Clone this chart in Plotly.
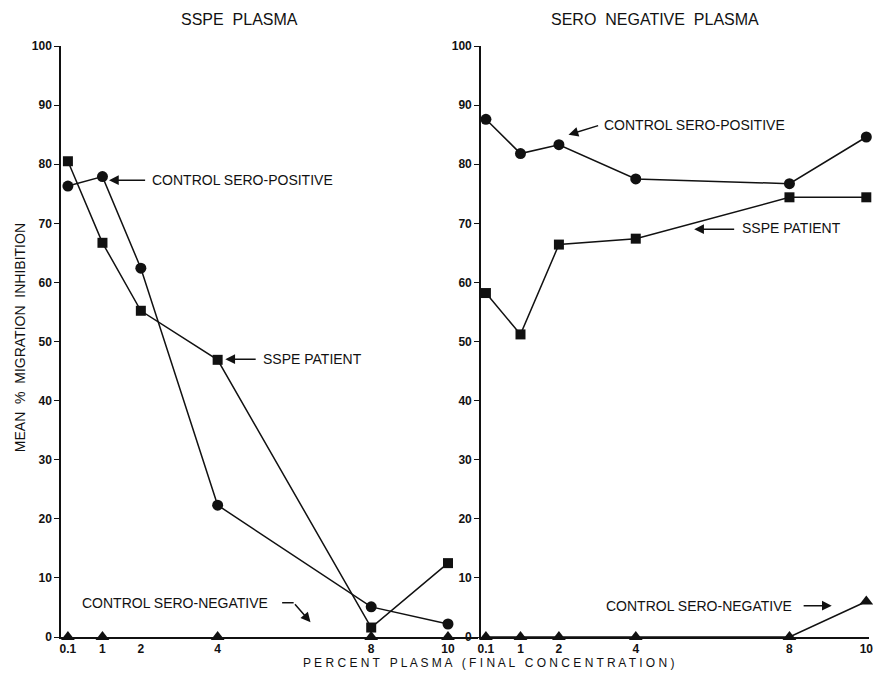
import plotly.graph_objects as go

# ---------------- data ----------------
x_ticks = [0.1, 1, 2, 4, 8, 10]
x_tick_labels = ["0.1", "1", "2", "4", "8", "10"]
y_ticks = [0, 10, 20, 30, 40, 50, 60, 70, 80, 90, 100]

# Left panel: SSPE plasma
left_pos_x = [0.1, 1, 2, 4, 8, 10]
left_pos_y = [76.3, 77.9, 62.4, 22.3, 5.1, 2.2]
left_sspe_x = [0.1, 1, 2, 4, 8, 10]
left_sspe_y = [80.5, 66.7, 55.2, 46.9, 1.6, 12.5]
left_neg_x = [0.1, 1, 4, 8, 10]
left_neg_y = [0, 0, 0, 0, 0]

# Right panel: sero negative plasma
right_pos_x = [0.1, 1, 2, 4, 8, 10]
right_pos_y = [87.6, 81.8, 83.3, 77.5, 76.7, 84.6]
right_sspe_x = [0.1, 1, 2, 4, 8, 10]
right_sspe_y = [58.2, 51.2, 66.4, 67.4, 74.4, 74.4]
right_neg_x = [0.1, 1, 2, 4, 8, 10]
right_neg_y = [0, 0, 0, 0, 0, 6.0]

FONT = "Liberation Sans, Arial, sans-serif"
BLACK = "#111111"

fig = go.Figure()

def add_series(xs, ys, symbol, size, xa, ya, mode="lines+markers"):
    fig.add_trace(go.Scatter(
        x=xs, y=ys, mode=mode, xaxis=xa, yaxis=ya,
        line=dict(color=BLACK, width=1.5),
        marker=dict(symbol=symbol, size=size, color=BLACK),
        cliponaxis=False, showlegend=False, hoverinfo="x+y"))

add_series(left_pos_x, left_pos_y, "circle", 11, "x", "y")
add_series(left_sspe_x, left_sspe_y, "square", 10, "x", "y")
add_series(left_neg_x, left_neg_y, "triangle-up", 12, "x", "y", mode="markers")
add_series(right_pos_x, right_pos_y, "circle", 11, "x2", "y2")
add_series(right_sspe_x, right_sspe_y, "square", 10, "x2", "y2")
add_series(right_neg_x, right_neg_y, "triangle-up", 12, "x2", "y2")

axis_common = dict(
    showgrid=False, zeroline=False, showline=True, linecolor=BLACK, linewidth=1.5,
    tickfont=dict(family=FONT, size=12, color=BLACK, weight="bold"),
    ticklabeloverflow="allow",
)

fig.update_layout(
    width=873, height=680,
    margin=dict(l=61, r=0, t=46, b=43),
    paper_bgcolor="white", plot_bgcolor="white",
    font=dict(family=FONT, color=BLACK),
    xaxis=dict(domain=[0, 0.516], range=[-0.08, 10.78], tickvals=x_ticks,
               ticktext=x_tick_labels, ticks="", anchor="y", **axis_common),
    yaxis=dict(domain=[0, 1], range=[0, 100], tickvals=y_ticks, ticks="outside",
               ticklen=5, tickcolor=BLACK, anchor="x", **axis_common),
    xaxis2=dict(domain=[0.5197, 1], range=[-0.03, 10.07], tickvals=x_ticks,
                ticktext=x_tick_labels, ticks="", anchor="y2", **axis_common),
    yaxis2=dict(domain=[0, 1], range=[0, 100], tickvals=y_ticks, ticks="outside",
                ticklen=5, tickcolor=BLACK, anchor="x2", **axis_common),
)

LBL = dict(family=FONT, size=14, color=BLACK)
TTL = dict(family=FONT, size=16, color=BLACK)

def text(x, y, s, xref, yref, xanchor="left", font=LBL):
    fig.add_annotation(x=x, y=y, xref=xref, yref=yref, text=s, showarrow=False,
                       xanchor=xanchor, yanchor="middle", font=font)

def arrow(x, y, ax, ay, xref, yref):
    fig.add_annotation(x=x, y=y, ax=ax, ay=ay, xref=xref, yref=yref,
                       axref=xref, ayref=yref, text="", showarrow=True,
                       arrowhead=2, arrowsize=1.3, arrowwidth=1.5, arrowcolor=BLACK)

# Left panel labels
text(2.25, 77.3, "CONTROL SERO-POSITIVE", "x", "y")
arrow(1.17, 77.3, 2.15, 77.3, "x", "y")
text(5.13, 47.0, "SSPE PATIENT", "x", "y")
arrow(4.2, 47.0, 5.03, 47.0, "x", "y")
text(0.42, 5.8, "CONTROL SERO-NEGATIVE", "x", "y")
fig.add_shape(type="line", x0=5.68, y0=5.8, x1=5.98, y1=5.8, xref="x", yref="y",
              line=dict(color=BLACK, width=1.5))
arrow(6.42, 2.5, 5.98, 5.8, "x", "y")

# Right panel labels
text(3.13, 86.6, "CONTROL SERO-POSITIVE", "x2", "y2")
arrow(2.25, 85.0, 3.06, 86.6, "x2", "y2")
text(6.71, 69.2, "SSPE PATIENT", "x2", "y2")
arrow(5.52, 69.0, 6.6, 69.0, "x2", "y2")
text(3.18, 5.3, "CONTROL SERO-NEGATIVE", "x2", "y2")
arrow(9.1, 5.3, 8.33, 5.3, "x2", "y2")

# Titles (paper coords relative to plot area: 46..637 vertical, 61..873 horizontal)
def px_x(px):
    return (px - 61) / 812

def px_y(py):
    return (637 - py) / 591

fig.add_annotation(x=px_x(240), y=px_y(20), xref="paper", yref="paper",
                   text="SSPE  PLASMA", showarrow=False, font=TTL,
                   xanchor="center", yanchor="middle")
fig.add_annotation(x=px_x(658), y=px_y(20), xref="paper", yref="paper",
                   text="SERO  NEGATIVE  PLASMA", showarrow=False, font=TTL,
                   xanchor="center", yanchor="middle")
fig.add_annotation(x=px_x(20), y=px_y(338), xref="paper", yref="paper",
                   text="MEAN  %  MIGRATION  INHIBITION", textangle=-90, showarrow=False,
                   font=dict(family=FONT, size=14, color=BLACK),
                   xanchor="center", yanchor="middle")
fig.add_annotation(x=px_x(491), y=px_y(663), xref="paper", yref="paper",
                   text="P E R C E N T   P L A S M A   ( F I N A L   C O N C E N T R A T I O N )",
                   showarrow=False, font=dict(family=FONT, size=12, color=BLACK),
                   xanchor="center", yanchor="middle")

fig.write_html("out.html")
